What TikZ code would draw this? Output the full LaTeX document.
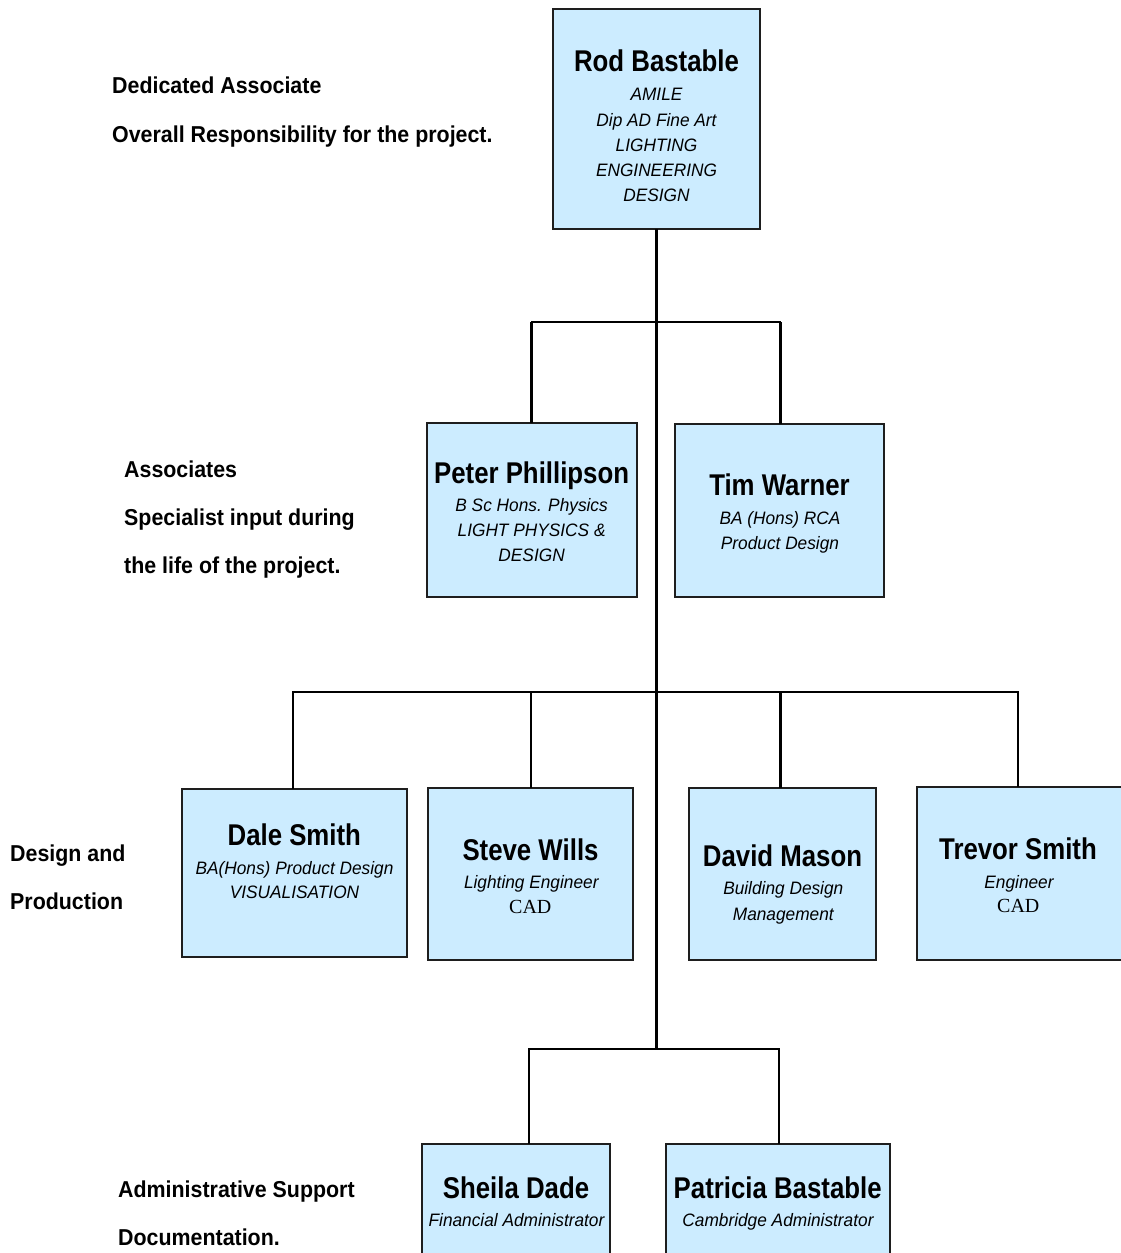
\documentclass[tikz,border=0pt]{standalone}
\usepackage{fontspec}
\newfontfamily\namefam[FakeStretch=0.86]{Liberation Sans}
\newfontfamily\subfam[FakeStretch=0.96]{Liberation Sans}
\newfontfamily\lblfam[FakeStretch=0.93]{Liberation Sans}
\newfontfamily\cadfam{Liberation Serif}
\definecolor{boxfill}{HTML}{CCECFF}
\definecolor{boxline}{HTML}{1E1E1E}
\tikzset{
  box/.style={draw=boxline, fill=boxfill, line width=2pt, rectangle, inner sep=0pt, outer sep=0pt, anchor=north west},
  nm/.style={anchor=base, inner sep=0pt, font=\namefam\bfseries\fontsize{30}{36}\selectfont},
  sb/.style={anchor=base, inner sep=0pt, font=\subfam\itshape\fontsize{18}{22}\selectfont},
  cad/.style={anchor=base, inner sep=0pt, font=\cadfam\fontsize{20}{24}\selectfont},
  lbl/.style={anchor=base west, inner sep=0pt, font=\lblfam\bfseries\fontsize{23}{28}\selectfont},
  trunk/.style={draw=black, line width=3pt},
  thick drop/.style={draw=black, line width=3pt},
  thin drop/.style={draw=black, line width=2pt},
  bar/.style={draw=black, line width=2pt, line cap=rect}
}
\begin{document}
\begin{tikzpicture}[x=1pt,y=-1pt]
\useasboundingbox (0,0) rectangle (1120,1253);
% ---- boxes ----
\node[box, minimum width=206.7pt, minimum height=220pt] (rod) at (553.3,9.3) {};
\node[box, minimum width=210pt, minimum height=173.4pt] (peter) at (426.7,423.3) {};
\node[box, minimum width=209pt, minimum height=172.4pt] (tim) at (675,424.3) {};
\node[box, minimum width=225.6pt, minimum height=168.3pt] (dale) at (181.7,789) {};
\node[box, minimum width=205pt, minimum height=171.7pt] (steve) at (428.3,788.3) {};
\node[box, minimum width=186.7pt, minimum height=171.7pt] (david) at (689.3,788.3) {};
\node[box, minimum width=220pt, minimum height=173.3pt] (trevor) at (916.7,786.7) {};
\node[box, minimum width=188.3pt, minimum height=130pt] (sheila) at (421.7,1144.3) {};
\node[box, minimum width=224.3pt, minimum height=130pt] (patricia) at (665.7,1144.3) {};
% ---- junction coordinates ----
\coordinate (r2a) at (531.7,322.3);
\coordinate (r2b) at (780,322.3);
\coordinate (r3a) at (293.3,692.3);
\coordinate (r3b) at (531,692.3);
\coordinate (r3c) at (780.7,692.3);
\coordinate (r3d) at (1017.7,692.3);
\coordinate (r4a) at (529,1049);
\coordinate (r4b) at (779,1049);
% ---- connectors ----
\draw[bar] (r2a) -- (r2b);
\draw[bar] (r3a) -- (r3d);
\draw[bar] (r4a) -- (r4b);
\draw[trunk] (rod.south) -- (rod.south |- r4a);
\draw[thick drop] (r2a) -- (r2a |- peter.north);
\draw[thick drop] (r2b) -- (r2b |- tim.north);
\draw[thin drop] (r3a) -- (r3a |- dale.north);
\draw[thin drop] (r3b) -- (r3b |- steve.north);
\draw[thick drop] (r3c) -- (r3c |- david.north);
\draw[thin drop] (r3d) -- (r3d |- trevor.north);
\draw[thin drop] (r4a) -- (r4a |- sheila.north);
\draw[thin drop] (r4b) -- (r4b |- patricia.north);
% ---- box texts ----
\node[nm] (rodn) at (656.5,71.7) {Rod Bastable};
\node[sb] (rod1) at (656.5,100.7) {AMILE};
\node[sb] (rod2) at (656.5,126) {Dip AD Fine Art};
\node[sb] (rod3) at (656.5,151.3) {LIGHTING};
\node[sb] (rod4) at (656.5,176.6) {ENGINEERING};
\node[sb] (rod5) at (656.5,201.9) {DESIGN};

\node[nm] (petern) at (531.6,483.3) {Peter Phillipson};
\node[sb] (peter1) at (531.6,511.7) {B Sc Hons. Physics};
\node[sb] (peter2) at (531.6,536.7) {LIGHT PHYSICS \&};
\node[sb] (peter3) at (531.6,561.7) {DESIGN};

\node[nm] (timn) at (779.5,495) {Tim Warner};
\node[sb] (tim1) at (780,524) {BA (Hons) RCA};
\node[sb] (tim2) at (780,549.5) {Product Design};

\node[nm] (dalen) at (294.3,845.7) {Dale Smith};
\node[sb] (dale1) at (294.5,874) {BA(Hons) Product Design};
\node[sb] (dale2) at (294.5,898.3) {VISUALISATION};

\node[nm] (steven) at (530.5,860) {Steve Wills};
\node[sb] (steve1) at (531.3,888.3) {Lighting Engineer};
\node[cad] (steve2) at (530.3,913.3) {CAD};

\node[nm] (davidn) at (782.5,866) {David Mason};
\node[sb] (david1) at (783.3,894) {Building Design};
\node[sb] (david2) at (783.3,920) {Management};

\node[nm] (trevorn) at (1018,859.3) {Trevor Smith};
\node[sb] (trevor1) at (1019,888.3) {Engineer};
\node[cad] (trevor2) at (1018.3,912.3) {CAD};

\node[nm] (sheilan) at (516,1198.3) {Sheila Dade};
\node[sb] (sheila1) at (516.5,1226.7) {Financial Administrator};

\node[nm] (patrician) at (777.7,1198.3) {Patricia Bastable};
\node[sb] (patricia1) at (778,1226.7) {Cambridge Administrator};
% ---- left labels ----
\node[lbl] (l1a) at (112,93.3) {Dedicated Associate};
\node[lbl] (l1b) at (112,142.3) {Overall Responsibility for the project.};
\node[lbl] (l2a) at (124,477) {Associates};
\node[lbl] (l2b) at (124,525) {Specialist input during};
\node[lbl] (l2c) at (124,573) {the life of the project.};
\node[lbl] (l3a) at (10,861.5) {Design and};
\node[lbl] (l3b) at (10,909.5) {Production};
\node[lbl] (l4a) at (118,1197.5) {Administrative Support};
\node[lbl] (l4b) at (118,1245.5) {Documentation.};
\end{tikzpicture}
\end{document}
